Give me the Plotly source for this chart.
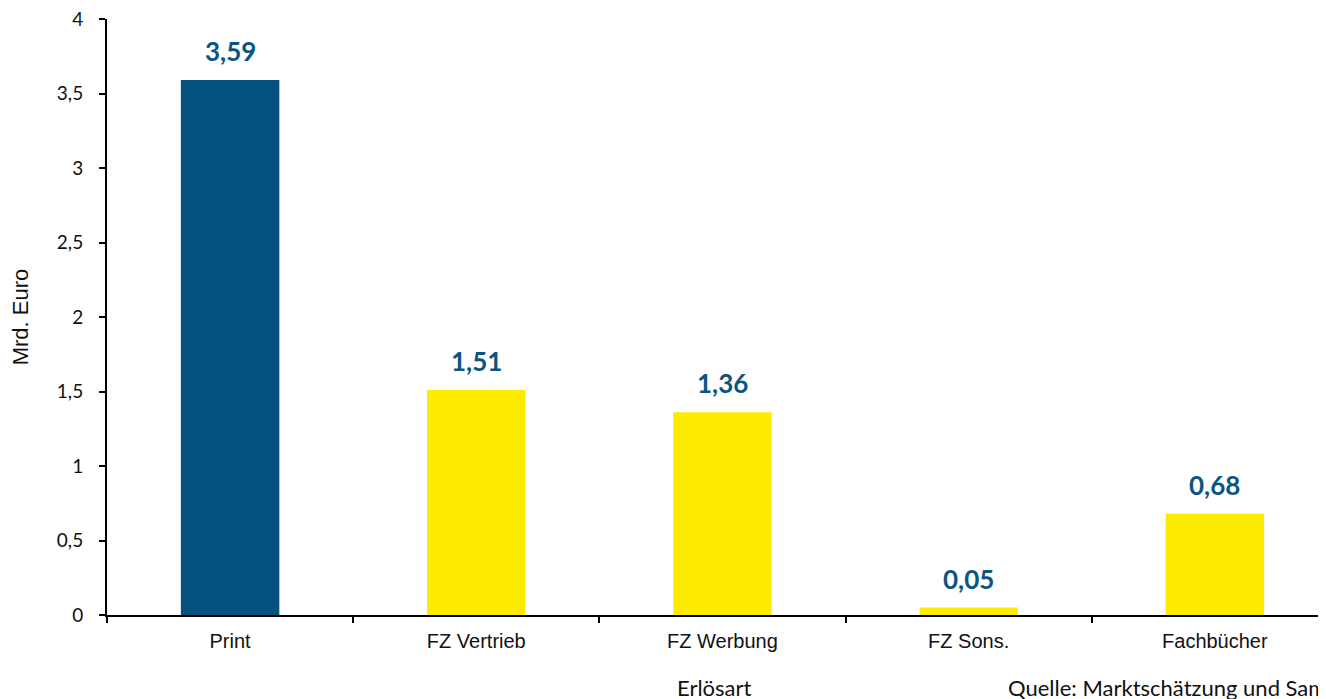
import plotly.graph_objects as go

categories = ["Print", "FZ Vertrieb", "FZ Werbung", "FZ Sons.", "Fachbücher"]
values = [3.59, 1.51, 1.36, 0.05, 0.68]
bar_colors = ["#06527E", "#FFEB00", "#FFEB00", "#FFEB00", "#FFEB00"]
y_ticks = [0, 0.5, 1, 1.5, 2, 2.5, 3, 3.5, 4]
y_tick_labels = ["0", "0,5", "1", "1,5", "2", "2,5", "3", "3,5", "4"]
value_labels = [f"{v:.2f}".replace(".", ",") for v in values]

fig = go.Figure()
fig.add_trace(go.Bar(
    x=categories, y=values, marker=dict(color=bar_colors, line=dict(width=0)),
    width=0.4, hoverinfo="skip",
))

for c, v, t in zip(categories, values, value_labels):
    fig.add_annotation(x=c, y=v, text=f"<b>{t}</b>", showarrow=False,
                       yanchor="bottom", yshift=11,
                       font=dict(family="Lato", size=26, color="#0B5582"))

fig.add_annotation(x=0.495, y=-0.121, xref="paper", yref="paper", text="Erlösart",
                   showarrow=False, xanchor="center", yanchor="middle",
                   font=dict(family="Lato", size=22, color="#111111"))
fig.add_annotation(x=0.733, y=-0.121, xref="paper", yref="paper",
                   text="Quelle: Marktschätzung und Sammlung",
                   showarrow=False, xanchor="left", yanchor="middle",
                   font=dict(family="Lato", size=22, color="#111111"))

fig.update_layout(
    width=1326, height=699,
    margin=dict(l=99, r=0, t=11, b=92),
    paper_bgcolor="white", plot_bgcolor="white",
    showlegend=False,
    xaxis=dict(
        type="category", range=[-0.5, 4.484], automargin=False,
        showline=True, linecolor="black", linewidth=2,
        ticks="outside", tickson="boundaries", ticklen=6, tickwidth=2, tickcolor="black",
        tickfont=dict(family="Liberation Sans", size=20, color="#111111"),
        ticklabelstandoff=7,
        showgrid=False, zeroline=False,
    ),
    yaxis=dict(
        range=[0, 4], tickvals=y_ticks, ticktext=y_tick_labels, automargin=False,
        ticklabeloverflow="allow",
        showline=True, linecolor="black", linewidth=2,
        ticks="outside", ticklen=6, tickwidth=2, tickcolor="black",
        tickfont=dict(family="Lato", size=19, color="#111111"),
        ticklabelstandoff=12,
        showgrid=False, zeroline=False,
        title=dict(text="Mrd. Euro", font=dict(family="Liberation Sans", size=22, color="#111111"),
                   standoff=26),
    ),
)

fig.write_html("out.html")
